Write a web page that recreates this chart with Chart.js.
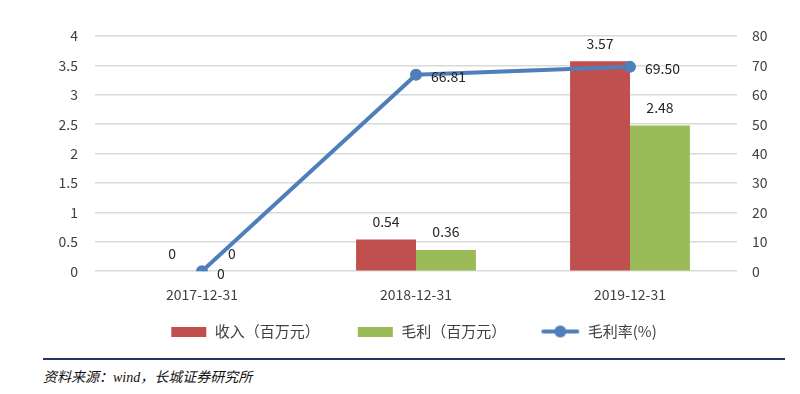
<!DOCTYPE html>
<html>
<head>
<meta charset="utf-8">
<script src="https://cdn.jsdelivr.net/npm/chart.js@4"></script>
<style>
  body { margin: 0; background: #fff; width: 800px; height: 394px; overflow: hidden; position: relative; }
  #wrap { position: absolute; left: 0; top: 0; width: 800px; height: 355px; }
  #source {
    position: absolute; left: 43px; top: 358px; width: 742px;
    border-top: 2px solid #1f3864;
    font-family: "Noto Sans CJK SC", sans-serif; font-style: italic;
    font-size: 14px; color: #111; padding-top: 6px;
  }
  #source .w { font-family: "Liberation Serif", serif; }
</style>
</head>
<body>
<div id="wrap"><canvas id="chart"></canvas></div>
<div id="source">资料来源：<span class="w">wind</span>，长城证券研究所</div>
<script>
// Chart data
const categories = ['2017-12-31', '2018-12-31', '2019-12-31'];
const revenue = [0, 0.54, 3.57];      // 收入（百万元）
const grossProfit = [0, 0.36, 2.48];  // 毛利（百万元）
const grossMargin = [0, 66.81, 69.50]; // 毛利率(%)

const RED = '#c0504d';
const GREEN = '#9bbb59';
const BLUE = '#4f7fba';
const FONT = '"Noto Sans CJK SC", "Noto Sans", sans-serif';

// legend icons (blank space on the left gives the gap between items)
const ICON_W = 64;
function boxIcon(color) {
    const c = document.createElement('canvas');
    c.width = ICON_W; c.height = 10;
    const g = c.getContext('2d');
    g.fillStyle = color;
    g.fillRect(ICON_W - 36, 0, 35, 10);
    return c;
}
function lineIcon() {
    const c = document.createElement('canvas');
    c.width = ICON_W; c.height = 14;
    const g = c.getContext('2d');
    g.strokeStyle = BLUE; g.lineWidth = 4; g.lineCap = 'round';
    g.beginPath(); g.moveTo(ICON_W - 37, 7); g.lineTo(ICON_W - 3, 7); g.stroke();
    g.fillStyle = BLUE;
    g.beginPath(); g.arc(ICON_W - 20, 7, 6, 0, Math.PI * 2); g.fill();
    return c;
}

// value labels drawn on top of bars / next to line points
const valueLabels = {
    id: 'valueLabels',
    afterDatasetsDraw(chart) {
        const ctx = chart.ctx;
        ctx.save();
        ctx.font = '14px ' + FONT;
        ctx.fillStyle = '#262626';
        chart.data.datasets.forEach((ds, i) => {
            const meta = chart.getDatasetMeta(i);
            meta.data.forEach((el, j) => {
                const v = ds.data[j];
                ctx.textBaseline = 'middle';
                if (ds.type === 'line') {
                    ctx.textAlign = 'left';
                    ctx.fillText(v === 0 ? '0' : v.toFixed(2), el.x + 15, el.y + 2);
                } else {
                    ctx.textAlign = 'center';
                    ctx.fillText(String(v), el.x, el.y - 18);
                }
            });
        });
        ctx.restore();
    }
};

const tickFont = { family: FONT, size: 14 };

new Chart(document.getElementById('chart'), {
    data: {
        labels: categories,
        datasets: [
            {
                type: 'bar',
                label: '收入（百万元）',
                data: revenue,
                backgroundColor: RED,
                yAxisID: 'y',
                order: 2
            },
            {
                type: 'bar',
                label: '毛利（百万元）',
                data: grossProfit,
                backgroundColor: GREEN,
                yAxisID: 'y',
                order: 2
            },
            {
                type: 'line',
                label: '毛利率(%)',
                data: grossMargin,
                borderColor: BLUE,
                backgroundColor: BLUE,
                borderWidth: 4,
                pointRadius: 6,
                pointBackgroundColor: BLUE,
                pointBorderWidth: 0,
                yAxisID: 'y1',
                order: 0
            }
        ]
    },
    options: {
        responsive: true,
        maintainAspectRatio: false,
        animation: false,
        layout: { padding: { top: 36, bottom: 6 } },
        datasets: {
            bar: { barPercentage: 1, categoryPercentage: 0.56 }
        },
        plugins: {
            tooltip: { enabled: false },
            legend: {
                position: 'bottom',
                labels: {
                    usePointStyle: true,
                    pointStyleWidth: ICON_W,
                    padding: 10,
                    color: '#404040',
                    font: { family: FONT, size: 15 },
                    generateLabels(chart) {
                        const icons = [boxIcon(RED), boxIcon(GREEN), lineIcon()];
                        return chart.data.datasets.map((ds, i) => ({
                            text: ds.label,
                            datasetIndex: i,
                            pointStyle: icons[i],
                            fillStyle: ds.backgroundColor,
                            strokeStyle: ds.backgroundColor,
                            lineWidth: 0,
                            hidden: false,
                            fontColor: '#404040'
                        }));
                    }
                }
            }
        },
        scales: {
            x: {
                grid: { display: false },
                border: { display: false },
                ticks: { color: '#404040', padding: 7, font: tickFont },
                afterFit(scale) { scale.height += 4; }
            },
            y: {
                position: 'left',
                min: 0, max: 4,
                ticks: {
                    stepSize: 0.5, padding: 17, color: '#404040', font: tickFont,
                    callback: v => String(v)
                },
                grid: { color: '#d9d9d9', lineWidth: 1.5, drawTicks: false },
                border: { display: false },
                afterFit(scale) { scale.width = 95; }
            },
            y1: {
                position: 'right',
                min: 0, max: 80,
                ticks: { stepSize: 10, padding: 15, color: '#404040', font: tickFont },
                grid: { display: false, drawTicks: false },
                border: { display: false },
                afterFit(scale) { scale.width = 63; }
            }
        }
    },
    plugins: [valueLabels]
});
</script>
</body>
</html>
